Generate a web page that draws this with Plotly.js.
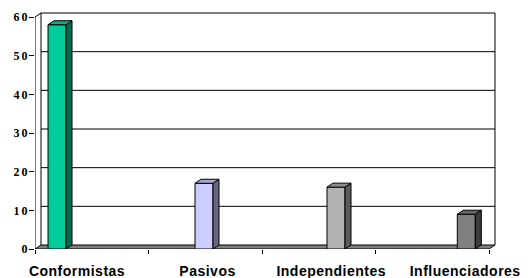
<!DOCTYPE html>
<html>
<head>
<meta charset="utf-8">
<script src="https://cdn.plot.ly/plotly-3.0.1.min.js"></script>
<style>
html,body{margin:0;padding:0;background:#fff;}
#chart{width:531px;height:278px;}
#chart .xtick text{letter-spacing:0.5px;}
#chart .y2tick text{letter-spacing:2px;}
</style>
</head>
<body>
<div id="chart"></div>
<script>
// ---- data ----
const categories = ["Conformistas", "Pasivos", "Independientes", "Influenciadores"];
const values = [58, 17, 16, 9];
const yTickVals = [0, 10, 20, 30, 40, 50, 60];

// ---- style / layout constants ----
const frontColors = ["#00CC99", "#CCCCFF", "#B2B2B2", "#808080"];
const topColors   = ["#00B386", "#A6A6D0", "#8C8C8C", "#666666"];
const sideColors  = ["#006B50", "#666680", "#5A5A5A", "#3C3C3C"];
const barOffsets  = [0.194, 0.489, 0.652, 0.800];   // position of bar inside its category slot
const labelOffsets = [0.37, 0.52, 0.61, 0.79];       // label position inside category slot
const W = 531, H = 278;
const M = {l: 35, r: 34, t: 10, b: 29};
const pxX = 113.5, pxY = 3.8667;   // pixels per x unit / per y unit
const depthPx = 6, depthPy = 4;
const DX = depthPx / pxX, DY = depthPy / pxY;
const barW = 18 / pxX;
const plotW = W - M.l - M.r, plotH = H - M.t - M.b;
const xMax = plotW / pxX;
const y2Max = plotH / pxY;             // front axis range top
const nCat = categories.length;

const traces = [];
// front faces
traces.push({
  type: "bar",
  x: categories.map((c, i) => i + barOffsets[i]),
  y: values,
  width: barW,
  xaxis: "x", yaxis: "y2",
  marker: {color: frontColors, line: {color: "#000", width: 1}},
  hoverinfo: "skip", showlegend: false
});
// side + top faces computed from the data
values.forEach((v, i) => {
  const xc = i + barOffsets[i];
  const xl = xc - barW / 2, xr = xc + barW / 2;
  traces.push({
    type: "scatter", mode: "lines", xaxis: "x", yaxis: "y2",
    x: [xr, xr + DX, xr + DX, xr, xr],
    y: [0, DY, v + DY, v, 0],
    fill: "toself", fillcolor: sideColors[i],
    line: {color: "#000", width: 1}, hoverinfo: "skip", showlegend: false
  });
  traces.push({
    type: "scatter", mode: "lines", xaxis: "x", yaxis: "y2",
    x: [xl, xl + DX, xr + DX, xr, xl],
    y: [v, v + DY, v + DY, v, v],
    fill: "toself", fillcolor: topColors[i],
    line: {color: "#000", width: 1}, hoverinfo: "skip", showlegend: false
  });
});

const shapes = [];
const topV = yTickVals[yTickVals.length - 1];
// back-wall gridlines (back axis y)
yTickVals.forEach(v => {
  if (v === 0) return;
  shapes.push({type: "line", xref: "x", yref: "y", x0: DX, x1: nCat + DX, y0: v, y1: v,
    line: {color: "#000", width: 1}, layer: "below"});
});
// back wall left and right edges
shapes.push({type: "line", xref: "x", yref: "y", x0: DX, x1: DX, y0: 0, y1: topV, line: {color: "#000", width: 1}, layer: "below"});
shapes.push({type: "line", xref: "x", yref: "y", x0: nCat + DX, x1: nCat + DX, y0: 0, y1: topV, line: {color: "#000", width: 1}, layer: "below"});
// left wall top slant and front axis line (front axis y2)
shapes.push({type: "line", xref: "x", yref: "y2", x0: 0, x1: DX, y0: topV, y1: topV + DY, line: {color: "#000", width: 1}, layer: "below"});
shapes.push({type: "line", xref: "x", yref: "y2", x0: 0, x1: 0, y0: 0, y1: topV, line: {color: "#000", width: 1}, layer: "below"});
// floor
shapes.push({type: "path", xref: "x", yref: "y2",
  path: `M 0 0 L ${nCat} 0 L ${nCat + DX} ${DY} L ${DX} ${DY} Z`,
  fillcolor: "#808080", line: {color: "#000", width: 1}, layer: "below"});

const layout = {
  width: W, height: H,
  margin: M,
  paper_bgcolor: "#fff", plot_bgcolor: "rgba(0,0,0,0)",
  showlegend: false,
  xaxis: {
    range: [0, xMax], showgrid: false, zeroline: false, showline: false,
    tickmode: "array",
    tickvals: categories.map((c, i) => i + labelOffsets[i]),
    ticktext: categories,
    ticks: "", ticklabelstandoff: 12,
    tickfont: {family: "Arial, 'Liberation Sans', sans-serif", size: 14, color: "#000", weight: "bold"},
    minor: {tickmode: "linear", tick0: 0, dtick: 1, ticks: "outside", ticklen: 4, tickcolor: "#000", tickwidth: 1, showgrid: false},
    fixedrange: true
  },
  yaxis: {
    range: [-DY, y2Max - DY], showgrid: false, zeroline: false, showline: false,
    showticklabels: false, ticks: "", fixedrange: true
  },
  yaxis2: {
    overlaying: "y", side: "left",
    range: [0, y2Max], showgrid: false, zeroline: false, showline: false,
    tickmode: "array", tickvals: yTickVals,
    ticks: "outside", ticklen: 5, tickcolor: "#000", tickwidth: 1,
    ticklabelstandoff: -3,
    tickfont: {family: "'Times New Roman', 'Liberation Serif', serif", size: 12, color: "#000", weight: "bold"},
    fixedrange: true
  },
  shapes: shapes
};

Plotly.newPlot("chart", traces, layout, {staticPlot: true, displayModeBar: false});
</script>
</body>
</html>
